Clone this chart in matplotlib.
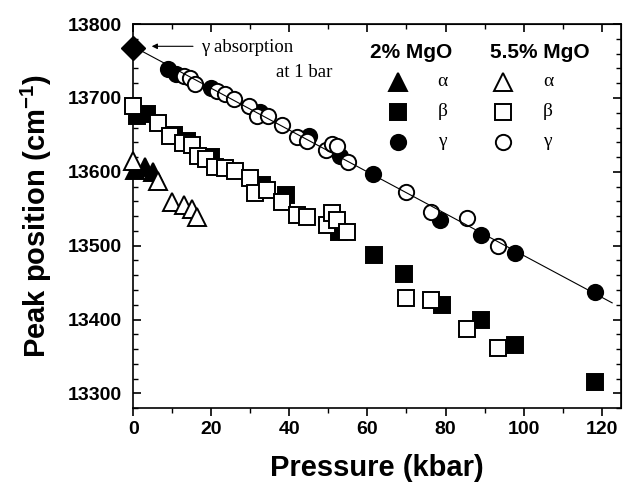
import numpy as np
import matplotlib
matplotlib.use("Agg")
import matplotlib.pyplot as plt
from matplotlib.ticker import MultipleLocator

plt.rcParams["font.family"] = ["Liberation Sans", "DejaVu Sans"]
plt.rcParams["mathtext.fontset"] = "custom"
plt.rcParams["mathtext.bf"] = "Liberation Sans:bold"
plt.rcParams["mathtext.rm"] = "Liberation Sans:bold"
plt.rcParams["mathtext.default"] = "bf"

# 2% MgO (filled symbols)
alpha2_p = [0.5, 3.0, 5.0]
alpha2_v = [13603, 13606, 13600]
beta2_p = [1.0, 3.5, 10.5, 13.7, 20.0, 33.0, 39.0, 52.7, 61.6, 69.3, 79.0, 89.2, 97.8, 118.4]
beta2_v = [13676, 13678, 13650, 13642, 13620, 13582, 13568, 13519, 13487, 13461, 13419, 13399, 13366, 13315]
gamma2_p = [9.0, 11.0, 20.0, 32.5, 45.0, 53.0, 61.4, 78.5, 89.2, 97.8, 118.4]
gamma2_v = [13739, 13733, 13714, 13681, 13649, 13622, 13597, 13535, 13514, 13490, 13437]

# 5.5% MgO (open symbols)
alpha55_p = [0.0, 6.4, 9.9, 12.9, 15.0, 16.3]
alpha55_v = [13615, 13588, 13559, 13555, 13550, 13539]
beta55_p = [0.0, 6.2, 9.4, 12.7, 15.0, 16.5, 18.5, 21.0, 23.6, 26.0, 30.0, 31.3, 34.3, 38.2,
            42.0, 44.5, 49.6, 50.9, 52.2, 54.7, 69.9, 76.4, 85.4, 93.4]
beta55_v = [13689, 13666, 13649, 13639, 13636, 13622, 13618, 13606, 13605, 13601, 13591, 13571,
            13575, 13559, 13541, 13539, 13528, 13544, 13535, 13519, 13429, 13427, 13387, 13362]
gamma55_p = [12.9, 14.6, 15.9, 21.5, 23.6, 25.7, 29.6, 31.8, 34.5, 38.0, 42.0, 44.6, 49.3,
             51.0, 52.3, 54.9, 69.9, 76.4, 85.4, 93.4]
gamma55_v = [13730, 13727, 13719, 13710, 13705, 13699, 13689, 13676, 13676, 13664, 13647,
             13642, 13629, 13638, 13635, 13613, 13573, 13546, 13537, 13499]

# gamma absorption at 1 bar
abs_p = [0.0]
abs_v = [13768]
fit_range = [0.0, 122.7]

fig = plt.figure(figsize=(6.23, 4.83), dpi=100)
ax = fig.add_axes([0.214, 0.155, 0.783, 0.795])

ms = 11
ms_tri = 12.5
mew = 1.4
ax.plot(alpha2_p, alpha2_v, "^", ms=ms_tri, color="black", mew=mew, ls="none", zorder=3, clip_on=False)
ax.plot(beta2_p, beta2_v, "s", ms=ms, color="black", mew=mew, ls="none", zorder=3, clip_on=False)
ax.plot(gamma2_p, gamma2_v, "o", ms=ms, color="black", mew=mew, ls="none", zorder=3, clip_on=False)
ax.plot(alpha55_p, alpha55_v, "^", ms=ms_tri, mfc="white", mec="black", mew=mew, ls="none",
        zorder=4, clip_on=False)
ax.plot(beta55_p, beta55_v, "s", ms=ms, mfc="white", mec="black", mew=mew, ls="none",
        zorder=4, clip_on=False)
ax.plot(gamma55_p, gamma55_v, "o", ms=ms, mfc="white", mec="black", mew=mew, ls="none",
        zorder=4, clip_on=False)

# linear fit through all gamma points
gp = np.array(abs_p + gamma2_p + gamma55_p)
gv = np.array(abs_v + gamma2_v + gamma55_v)
coef = np.polyfit(gp, gv, 1)
fx = np.array(fit_range)
ax.plot(fx, np.polyval(coef, fx), color="black", lw=0.8, zorder=5)

ax.plot(abs_p, abs_v, "D", ms=12.5, color="black", clip_on=False, zorder=6)

serif = ["Liberation Serif", "DejaVu Serif"]
ax.annotate("", xy=(4.0, 13770), xytext=(16.0, 13770),
            arrowprops=dict(arrowstyle="-|>", color="black", lw=0.8,
                            mutation_scale=8))
ax.text(17.3, 13768, "\u03b3 absorption", family=serif, fontsize=13.5, va="center")
ax.text(36.6, 13735, "at 1 bar", family=serif, fontsize=13.5, va="center")

# legend drawn by hand, two columns
tr = ax.transAxes
ax.text(0.570, 0.927, "2% MgO", transform=tr, fontsize=15, fontweight="bold",
        ha="center", va="center")
ax.text(0.833, 0.927, "5.5% MgO", transform=tr, fontsize=15, fontweight="bold",
        ha="center", va="center")
rows = [("^", "\u03b1", 0.850, ms_tri), ("s", "\u03b2", 0.772, ms), ("o", "\u03b3", 0.694, ms)]
for mk, lab, yy, size in rows:
    ax.plot([0.543], [yy], mk, ms=size, color="black", mew=mew, transform=tr, clip_on=False)
    ax.plot([0.758], [yy], mk, ms=size, mfc="white", mec="black", mew=mew, transform=tr,
            clip_on=False)
    ax.text(0.624, yy, lab, transform=tr, family=serif, fontsize=14, va="center")
    ax.text(0.840, yy, lab, transform=tr, family=serif, fontsize=14, va="center")

ax.set_xlim(0, 125)
ax.set_ylim(13280, 13800)
ax.xaxis.set_major_locator(MultipleLocator(20))
ax.xaxis.set_minor_locator(MultipleLocator(10))
ax.yaxis.set_major_locator(MultipleLocator(100))
ax.yaxis.set_minor_locator(MultipleLocator(20))

for s in ax.spines.values():
    s.set_linewidth(1.2)
ax.tick_params(axis="x", which="major", direction="out", length=6, width=1.2,
               labelsize=14, pad=3)
ax.tick_params(axis="x", which="minor", direction="out", length=3.5, width=1.0)
ax.tick_params(axis="y", which="major", direction="in", length=6, width=1.2,
               labelsize=14, pad=8)
ax.tick_params(axis="y", which="minor", direction="in", length=3.5, width=1.0)
for lab in ax.get_xticklabels() + ax.get_yticklabels():
    lab.set_fontweight("bold")

top = ax.secondary_xaxis("top")
top.xaxis.set_major_locator(MultipleLocator(20))
top.xaxis.set_minor_locator(MultipleLocator(10))
top.tick_params(which="major", direction="in", length=6, width=1.2, labeltop=False)
top.tick_params(which="minor", direction="in", length=3.5, width=1.0)
right = ax.secondary_yaxis("right")
right.yaxis.set_major_locator(MultipleLocator(100))
right.yaxis.set_minor_locator(MultipleLocator(20))
right.tick_params(which="major", direction="in", length=6, width=1.2, labelright=False)
right.tick_params(which="minor", direction="in", length=3.5, width=1.0)

ax.set_xlabel("Pressure (kbar)", fontsize=21, fontweight="bold", labelpad=12)
ax.set_ylabel("Peak position (cm$^{-1}$)", fontsize=21, fontweight="bold", labelpad=10)

fig.savefig("out.png", dpi=100)
